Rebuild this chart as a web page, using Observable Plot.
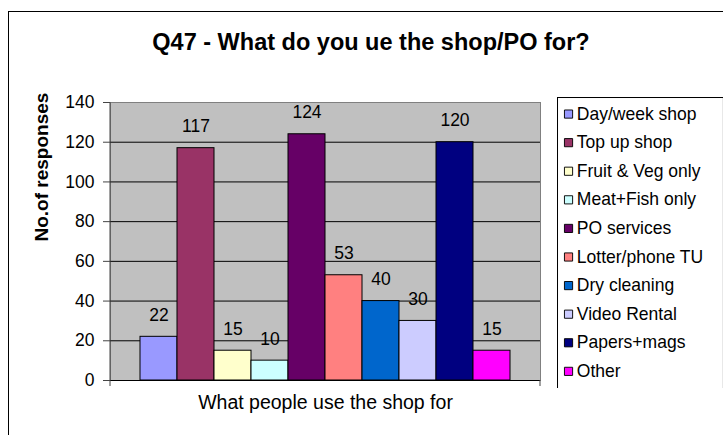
<!DOCTYPE html>
<html>
<head>
<meta charset="utf-8">
<script src="https://cdn.jsdelivr.net/npm/d3@7"></script>
<script src="https://cdn.jsdelivr.net/npm/@observablehq/plot@0.6"></script>
<style>
  html, body { margin: 0; padding: 0; background: #fff; }
  #wrap { position: relative; width: 723px; height: 435px; overflow: hidden; font-family: "Liberation Sans", Arial, sans-serif; }
  #border { position: absolute; left: 8px; top: 11px; width: 900px; height: 600px; border: 1px solid #000; }
  #title { position: absolute; left: 0; top: 28px; width: 742px; text-align: center; font-size: 23.5px; font-weight: bold; line-height: 28px; color: #000; }
  #chart { position: absolute; left: 0; top: 0; }
  #legend { position: absolute; left: 557px; top: 97px; }
</style>
</head>
<body>
<div id="wrap">
  <div id="border"></div>
  <div id="title"></div>
  <div id="chart"></div>
  <div id="legend"></div>
</div>
<script>
const titleText = "Q47 - What do you ue the shop/PO for?";
const yLabel = "No.of responses";
const xLabel = "What people use the shop for";
const categories = ["Day/week shop", "Top up shop", "Fruit & Veg only", "Meat+Fish only", "PO services", "Lotter/phone TU", "Dry cleaning", "Video Rental", "Papers+mags", "Other"];
const values = [22, 117, 15, 10, 124, 53, 40, 30, 120, 15];
const colors = ["#9999FF", "#993366", "#FFFFCC", "#CCFFFF", "#660066", "#FF8080", "#0066CC", "#CCCCFF", "#000080", "#FF00FF"];
const yTicks = [0, 20, 40, 60, 80, 100, 120, 140];
const gridValues = [20, 40, 60, 80, 100, 120];

const data = categories.map((c, i) => ({cat: c, val: values[i]}));

document.getElementById("title").textContent = titleText;

const font = "Liberation Sans, Arial, sans-serif";

const edgeTicks = (index, scales, values, dim) => {
  const g = document.createElementNS("http://www.w3.org/2000/svg", "g");
  const yb = dim.height - dim.marginBottom;
  const xl = dim.marginLeft, xr = dim.width - dim.marginRight;
  const lines = [[xl, yb, xl, yb + 6], [xr, yb, xr, yb + 6], [xl, dim.marginTop, xl, yb]];
  for (const [x1, y1, x2, y2] of lines) {
    const l = document.createElementNS("http://www.w3.org/2000/svg", "line");
    l.setAttribute("x1", x1); l.setAttribute("y1", y1);
    l.setAttribute("x2", x2); l.setAttribute("y2", y2);
    l.setAttribute("stroke", "#444");
    l.setAttribute("stroke-width", 1);
    g.appendChild(l);
  }
  return g;
};

const chart = Plot.plot({
  width: 723,
  height: 435,
  marginLeft: 110,
  marginRight: 183,
  marginTop: 102,
  marginBottom: 55,
  style: {fontFamily: font, fontSize: "17px", color: "#000", background: "transparent", overflow: "visible"},
  x: {domain: categories, range: [137, 512], padding: 0, axis: null},
  y: {domain: [0, 140], ticks: yTicks, axis: null},
  color: {domain: categories, range: colors},
  marks: [
    Plot.frame({fill: "#C0C0C0", stroke: "#808080"}),
    Plot.ruleY(gridValues, {stroke: "#000", strokeWidth: 1}),
    Plot.ruleY([0], {stroke: "#000", strokeWidth: 1}),
    Plot.barY(data, {x: "cat", y: "val", fill: "cat", stroke: "#000", strokeWidth: 1}),
    Plot.axisY({ticks: yTicks, tickSize: 7, tickPadding: 9, fontSize: 17.5, stroke: "#444", label: null}),
    Plot.text(data, {x: "cat", y: "val", text: d => String(d.val), dy: -21.5, fontSize: 17.5, fill: "#000"}),
    Plot.text([yLabel], {frameAnchor: "left", rotate: -90, dx: -69, fontSize: 19, fontWeight: "bold", fill: "#000"}),
    Plot.text([xLabel], {frameAnchor: "bottom", dy: 28, fontSize: 19.5, fill: "#000"}),
    edgeTicks
  ]
});
document.getElementById("chart").appendChild(chart);

const legend = Plot.plot({
  width: 180,
  height: 316,
  margin: 0,
  style: {fontFamily: font, fontSize: "19px", color: "#000", background: "transparent"},
  y: {type: "point", domain: categories, range: [14, 300], padding: 0, axis: null},
  x: {axis: null},
  color: {domain: categories, range: colors},
  marks: [
    Plot.frame({fill: "#fff", stroke: "#000", strokeWidth: 1.2}),
    Plot.dot(categories, {frameAnchor: "left", y: d => d, dx: 12, symbol: "square", r: 5, fill: d => d, stroke: "#000", strokeWidth: 1}),
    Plot.text(categories, {frameAnchor: "left", y: d => d, dx: 21, text: d => d, textAnchor: "start", fontSize: 19, fill: "#000"})
  ]
});
document.getElementById("legend").appendChild(legend);
</script>
</body>
</html>
